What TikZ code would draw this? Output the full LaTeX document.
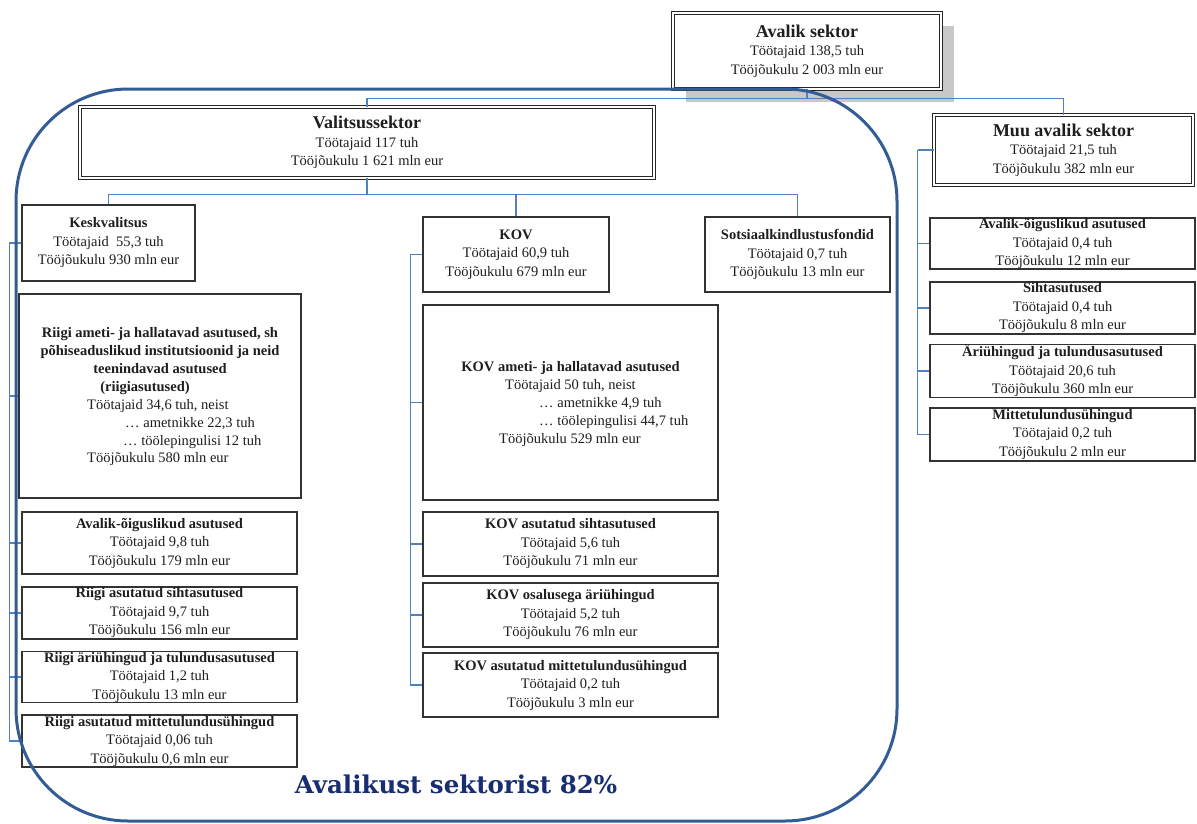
\documentclass[tikz,border=0pt]{standalone}
\usepackage{fontspec}
\setmainfont{Liberation Serif}
\newfontfamily\bannerfont{DejaVu Serif}
\usetikzlibrary{calc,backgrounds}
\definecolor{connblue}{RGB}{79,129,189}
\definecolor{frameblue}{RGB}{50,92,150}
\definecolor{bannerblue}{RGB}{24,46,112}
\definecolor{shadowgray}{RGB}{200,200,200}
\definecolor{inkgray}{RGB}{30,30,30}
\tikzset{
  txt/.style={font=\fontsize{14.5}{18.5}\selectfont, text=inkgray, inner sep=0pt},
  txtb/.style={font=\fontsize{14.5}{18.5}\selectfont\bfseries, text=inkgray, inner sep=0pt},
  wh/.style 2 args={minimum width=#1pt, minimum height=#2pt},
  unitbox/.style={txt, draw=black!80, line width=1.1pt, fill=white, align=center},
  sectorbox/.style={txt, draw=black!85, line width=0.9pt, double=white,
    double distance=2.2pt, fill=white, align=center},
  conn/.style={draw=connblue, line width=1.1pt},
  frame/.style={draw=frameblue, line width=3pt, rounded corners=112pt},
}
\newcommand{\ttl}[1]{{\fontsize{18}{20}\selectfont\bfseries #1}}
\begin{document}
\begin{tikzpicture}[x=1pt, y=-1pt]
\useasboundingbox (0,0) rectangle (1197,823);

% sector level
\node[sectorbox, wh={268}{76}] (avalik) at (807,51)
  {\ttl{Avalik sektor}\\Töötajaid 138,5 tuh\\Tööjõukulu 2 003 mln eur};
\begin{pgfonlayer}{background}
  \fill[shadowgray] ($(avalik.south west)+(13,13)$) rectangle ($(avalik.north east)+(13,13)$);
\end{pgfonlayer}
\node[sectorbox, wh={574}{71}] (valits) at (367,142.5)
  {\ttl{Valitsussektor}\\Töötajaid 117 tuh\\Tööjõukulu 1 621 mln eur};
\node[sectorbox, wh={259}{70}] (muu) at (1063.5,150)
  {\ttl{Muu avalik sektor}\\Töötajaid 21,5 tuh\\Tööjõukulu 382 mln eur};

% general government subsectors
\node[unitbox, wh={173}{76}] (kesk) at (108.5,243)
  {\textbf{Keskvalitsus}\\Töötajaid~ 55,3 tuh\\Tööjõukulu 930 mln eur};
\node[unitbox, wh={186}{75}] (kov) at (516,254.5)
  {\textbf{KOV}\\Töötajaid 60,9 tuh\\Tööjõukulu 679 mln eur};
\node[unitbox, wh={185}{75}] (sots) at (797.5,254.5)
  {\textbf{Sotsiaalkindlustusfondid}\\Töötajaid 0,7 tuh\\Tööjõukulu 13 mln eur};

% central government units
\node[unitbox, wh={282}{204}] (rameti) at (160,396) {};
\node[txtb, anchor=base] (ramh1) at (160,337) {Riigi ameti- ja hallatavad asutused, sh};
\node[txtb, anchor=base] (ramh2) at (160,355) {põhiseaduslikud institutsioonid ja neid};
\node[txtb, anchor=base] (ramh3) at (160,373) {teenindavad asutused};
\node[txtb, anchor=base] (ramh4) at (145,391) {(riigiasutused)};
\node[txt, anchor=base west] (ram1) at (87,409) {Töötajaid 34,6 tuh, neist};
\node[txt, anchor=base west] (ram2) at (125,427) {… ametnikke 22,3 tuh};
\node[txt, anchor=base west] (ram3) at (123,445) {… töölepingulisi 12 tuh};
\node[txt, anchor=base west] (ram4) at (87,462) {Tööjõukulu 580 mln eur};

\node[unitbox, wh={275}{62}] (raog) at (159.5,543)
  {\textbf{Avalik-õiguslikud asutused}\\Töötajaid 9,8 tuh\\Tööjõukulu 179 mln eur};
\node[unitbox, wh={275}{52}] (rsiht) at (159.5,613)
  {\textbf{Riigi asutatud sihtasutused}\\Töötajaid 9,7 tuh\\Tööjõukulu 156 mln eur};
\node[unitbox, wh={275}{50}] (rari) at (159.5,677)
  {\textbf{Riigi äriühingud ja tulundusasutused}\\Töötajaid 1,2 tuh\\Tööjõukulu 13 mln eur};
\node[unitbox, wh={275}{52}] (rmtu) at (159.5,741)
  {\textbf{Riigi asutatud mittetulundusühingud}\\Töötajaid 0,06 tuh\\Tööjõukulu 0,6 mln eur};

% local government units
\node[unitbox, wh={295}{195}] (kovameti) at (570.5,402.5) {};
\node[txtb, anchor=base] (kamh) at (570.5,371) {KOV ameti- ja hallatavad asutused};
\node[txt, anchor=base west] (kam1) at (505,389) {Töötajaid 50 tuh, neist};
\node[txt, anchor=base west] (kam2) at (539,407) {… ametnikke 4,9 tuh};
\node[txt, anchor=base west] (kam3) at (539,425) {… töölepingulisi 44,7 tuh};
\node[txt, anchor=base west] (kam4) at (499,443) {Tööjõukulu 529 mln eur};

\node[unitbox, wh={295}{64}] (kovsiht) at (570.5,544)
  {\textbf{KOV asutatud sihtasutused}\\Töötajaid 5,6 tuh\\Tööjõukulu 71 mln eur};
\node[unitbox, wh={295}{64}] (kovos) at (570.5,615)
  {\textbf{KOV osalusega äriühingud}\\Töötajaid 5,2 tuh\\Tööjõukulu 76 mln eur};
\node[unitbox, wh={295}{64}] (kovmtu) at (570.5,685)
  {\textbf{KOV asutatud mittetulundusühingud}\\Töötajaid 0,2 tuh\\Tööjõukulu 3 mln eur};

% other public sector units
\node[unitbox, wh={265}{51}] (maog) at (1062.5,243.5)
  {\textbf{Avalik-õiguslikud asutused}\\Töötajaid 0,4 tuh\\Tööjõukulu 12 mln eur};
\node[unitbox, wh={265}{52}] (msiht) at (1062.5,308)
  {\textbf{Sihtasutused}\\Töötajaid 0,4 tuh\\Tööjõukulu 8 mln eur};
\node[unitbox, wh={265}{52}] (mari) at (1062.5,371)
  {\textbf{Äriühingud ja tulundusasutused}\\Töötajaid 20,6 tuh\\Tööjõukulu 360 mln eur};
\node[unitbox, wh={265}{53}] (mmtu) at (1062.5,434.5)
  {\textbf{Mittetulundusühingud}\\Töötajaid 0,2 tuh\\Tööjõukulu 2 mln eur};

% connectors
\draw[conn] (avalik.south) -- ++(0,9) coordinate (abus);
\draw[conn] (abus) -| (valits.north);
\draw[conn] (abus) -| (muu.north);

\draw[conn] (valits.south) -- ++(0,16) coordinate (vbus);
\foreach \n in {kesk,kov,sots} \draw[conn] (vbus) -| (\n.north);

\draw[conn] (kesk.west) -- ++(-12,0) coordinate (kspine);
\foreach \n in {rameti,raog,rsiht,rari,rmtu} \draw[conn] (kspine) |- (\n.west);

\draw[conn] (kov.west) -- ++(-12,0) coordinate (lspine);
\foreach \n in {kovameti,kovsiht,kovos,kovmtu} \draw[conn] (lspine) |- (\n.west);

\draw[conn] (muu.west) -- ++(-16,0) coordinate (mspine);
\foreach \n in {maog,msiht,mari,mmtu} \draw[conn] (mspine) |- (\n.west);

% general government frame and its share
\draw[frame] (16,89) rectangle (897,821);
\node[font=\bannerfont\fontsize{24.5}{28}\selectfont\bfseries, text=bannerblue,
  anchor=base, inner sep=0pt] (banner) at (456,793) {Avalikust sektorist 82\%};
\end{tikzpicture}
\end{document}
